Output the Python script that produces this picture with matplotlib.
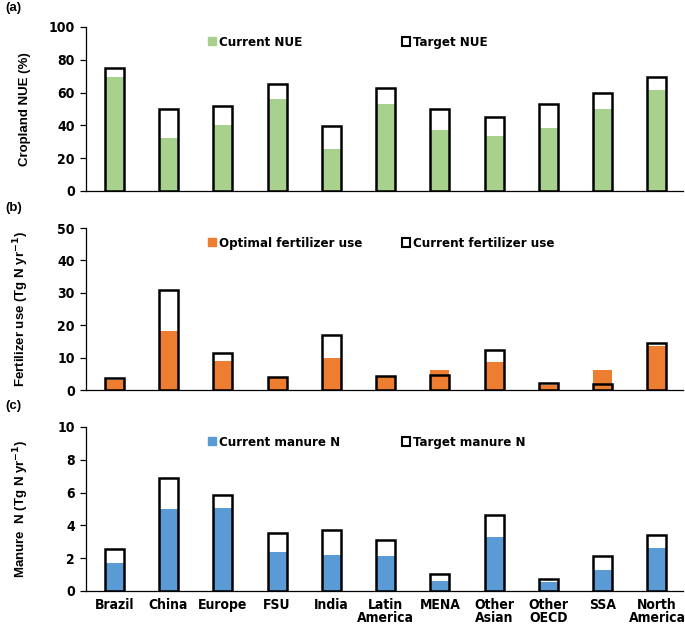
import matplotlib
matplotlib.use("Agg")
import matplotlib.pyplot as plt
from matplotlib.patches import Patch
from matplotlib import font_manager

# narrow bold font for ticks and legends (Arial Narrow look), if one is installed
cond_file = None
for f in font_manager.fontManager.ttflist:
    fn = f.fname.replace("-", "").replace(" ", "").lower()
    if ("narrowbold" in fn or "condensedbold" in fn) and "oblique" not in fn and "italic" not in fn:
        if cond_file is None or "liberation" in fn:
            cond_file = f.fname
if cond_file:
    cond = font_manager.FontProperties(fname=cond_file, size=10)
    cond_leg = font_manager.FontProperties(fname=cond_file, size=9.5)
else:
    cond = font_manager.FontProperties(family="Liberation Sans", weight="bold", size=9)
    cond_leg = font_manager.FontProperties(family="Liberation Sans", weight="bold", size=8.5)

plt.rcParams["font.family"] = ["Liberation Sans", "DejaVu Sans"]
plt.rcParams["font.weight"] = "bold"

regions = ["Brazil", "China", "Europe", "FSU", "India", "Latin\nAmerica", "MENA",
           "Other\nAsian", "Other\nOECD", "SSA", "North\nAmerica"]

# (a) cropland NUE (%)
nue_current = [69.8, 32.6, 40.3, 56.2, 25.9, 53.0, 37.0, 33.8, 38.5, 50.2, 61.7]
nue_target = [75.2, 50.1, 51.9, 65.0, 39.9, 63.1, 50.1, 45.4, 53.0, 60.0, 69.5]

# (b) fertilizer use (Tg N / yr)
fert_optimal = [3.1, 18.3, 8.8, 4.0, 10.0, 4.2, 6.3, 8.6, 1.5, 6.3, 13.5]
fert_current = [3.6, 31.0, 11.3, 4.1, 17.0, 4.3, 4.5, 12.2, 2.3, 2.0, 14.6]

# (c) manure N (Tg N / yr)
manure_current = [1.71, 5.0, 5.08, 2.35, 2.18, 2.12, 0.59, 3.31, 0.53, 1.29, 2.63]
manure_target = [2.55, 6.92, 5.84, 3.55, 3.71, 3.08, 1.02, 4.63, 0.71, 2.12, 3.43]

green = "#a9d18e"
orange = "#ed7d31"
blue = "#5b9bd5"

fig = plt.figure(figsize=(6.85, 6.26), dpi=100)
W, H = 685, 626

def px_axes(x0, x1, ytop, ybot):
    return fig.add_axes([x0 / W, 1 - ybot / H, (x1 - x0) / W, (ybot - ytop) / H])

panels = [
    dict(top=27, bot=191, fill=nue_current, outline=nue_target, color=green,
         ymax=100, step=20, ylabel="Cropland NUE (%)",
         lab1="Current NUE", lab2="Target NUE", tag="(a)", tagy=8, legy=42),
    dict(top=228, bot=390, fill=fert_optimal, outline=fert_current, color=orange,
         ymax=50, step=10, ylabel="Fertilizer use (Tg N yr$^{\\mathbf{-1}}$)",
         lab1="Optimal fertilizer use", lab2="Current fertilizer use", tag="(b)", tagy=208, legy=243),
    dict(top=427, bot=591, fill=manure_current, outline=manure_target, color=blue,
         ymax=10, step=2, ylabel="Manure  N (Tg N yr$^{\\mathbf{-1}}$)",
         lab1="Current manure N", lab2="Target manure N", tag="(c)", tagy=406, legy=442),
]

x = list(range(len(regions)))
bw = 0.35
for i, p in enumerate(panels):
    ax = px_axes(86, 683, p["top"], p["bot"])
    ax.bar(x, p["fill"], width=bw, color=p["color"], edgecolor="none", zorder=2)
    ax.bar(x, p["outline"], width=bw, facecolor="none", edgecolor="black", linewidth=1.8, zorder=3)
    ax.set_xlim(-0.52, 10.48)
    ax.set_ylim(0, p["ymax"])
    ax.set_yticks(range(0, p["ymax"] + 1, p["step"]))
    for s in ["top", "right"]:
        ax.spines[s].set_visible(False)
    ax.spines["left"].set_linewidth(0.9)
    ax.spines["bottom"].set_linewidth(0.9)
    ax.tick_params(axis="y", direction="out", length=4, width=0.9, pad=4)
    ax.tick_params(axis="x", length=0, pad=5)
    ax.set_xticks(x)
    if i == 2:
        ax.set_xticklabels(regions, linespacing=0.9, va="top")
    else:
        ax.set_xticklabels([])
    for t in ax.get_xticklabels() + ax.get_yticklabels():
        t.set_fontproperties(cond)
    ax.set_ylabel(p["ylabel"], fontsize=9.5, fontweight="bold")
    ax.yaxis.set_label_coords(-55 / 597, 0.5)
    fig.text(5 / W, 1 - p["tagy"] / H, p["tag"], fontsize=9.5, ha="left", va="center")

    h1 = Patch(facecolor=p["color"], edgecolor=p["color"], linewidth=1.0)
    h2 = Patch(facecolor="white", edgecolor="black", linewidth=1.5)
    leg1 = ax.legend([h1], [p["lab1"]], loc="center left", frameon=False, prop=cond_leg,
                     handlelength=0.6, handleheight=0.6, handletextpad=0.25, borderpad=0,
                     borderaxespad=0, bbox_to_anchor=(208 / W, 1 - p["legy"] / H),
                     bbox_transform=fig.transFigure)
    ax.add_artist(leg1)
    # second entry nudged down a little so both rows share one baseline
    ax.legend([h2], [p["lab2"]], loc="center left", frameon=False, prop=cond_leg,
              handlelength=0.6, handleheight=0.6, handletextpad=0.25, borderpad=0,
              borderaxespad=0, bbox_to_anchor=(402 / W, 1 - (p["legy"] + 0.5) / H),
              bbox_transform=fig.transFigure)

fig.savefig("out.png", dpi=100)
